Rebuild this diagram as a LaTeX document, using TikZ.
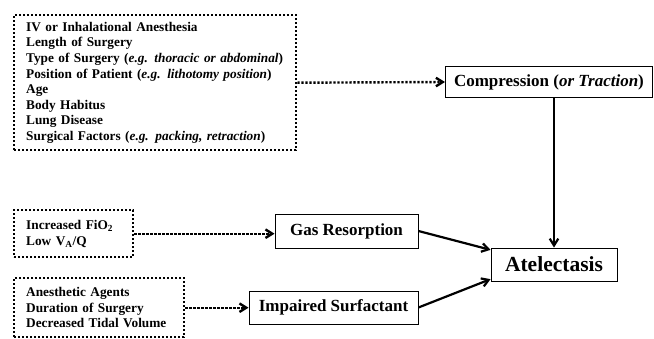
\documentclass[tikz,border=0pt]{standalone}
\usepackage{fontspec}
\setmainfont{Liberation Serif}
\usetikzlibrary{arrows.meta}

\begin{document}
\begin{tikzpicture}[x=1pt, y=-1pt, >={Straight Barb[length=2.4mm, width=3mm]}]
    \tikzset{font={\fontsize{13.3pt}{15.6pt}\selectfont\bfseries}}
    \tikzset{dotbox/.style={draw, line width=2.4pt, dash pattern=on 2.2pt off 1.8pt, align=left, inner xsep=12pt, anchor=north west}}
    \tikzset{solidbox/.style={draw, line width=0.9pt, align=center, font={\fontsize{17pt}{19pt}\selectfont\bfseries}}}
    \tikzset{dotarrow/.style={->, line width=2.4pt, dash pattern=on 2.2pt off 1.8pt}}
    \tikzset{solidarrow/.style={->, line width=2.2pt}}
    \useasboundingbox (0,0) rectangle (654,338);
    \node [dotbox, minimum width=282pt, minimum height=135pt, text width=258pt] (factors) at (13,14) {IV or Inhalational Anesthesia\\Length of Surgery\\Type of Surgery (\textit{e.g. thoracic or abdominal})\\Position of Patient (\textit{e.g. lithotomy position})\\Age\\Body Habitus\\Lung Disease\\Surgical Factors (\textit{e.g. packing, retraction})};
    \node [solidbox, minimum width=207pt, minimum height=31pt, anchor=west] (comp) at (445,82) {Compression (\textit{or Traction})};
    \node [solidbox, minimum width=126pt, minimum height=33pt, font={\fontsize{21.5pt}{24pt}\selectfont\bfseries}] (atel) at (554,264.5) {Atelectasis};
    \node [solidbox, minimum width=143pt, minimum height=34pt] (gas) at (346.5,231) {Gas Resorption};
    \node [solidbox, minimum width=169pt, minimum height=33pt] (surf) at (333.5,307.5) {Impaired Surfactant};
    \node [dotbox, minimum width=119pt, minimum height=47pt, text width=95pt] (oxy) at (13,209) {Increased FiO\textsubscript{2}\\Low V\textsubscript{A}/Q};
    \node [dotbox, minimum width=170pt, minimum height=59pt, text width=146pt] (anes) at (13,277) {Anesthetic Agents\\Duration of Surgery\\Decreased Tidal Volume};
    % connectors
    \draw [dotarrow] (factors.east) -- (comp.west);
    \draw [dotarrow] (oxy.east) -- (gas.west |- oxy.east);
    \draw [dotarrow] (anes.east) -- (surf.west |- anes.east);
    \draw [solidarrow] (comp.south -| atel.north) -- (atel.north);
    \draw [solidarrow] (gas.east) -- (atel.167);
    \draw [solidarrow] (surf.east) -- (atel.193);
\end{tikzpicture}
\end{document}
